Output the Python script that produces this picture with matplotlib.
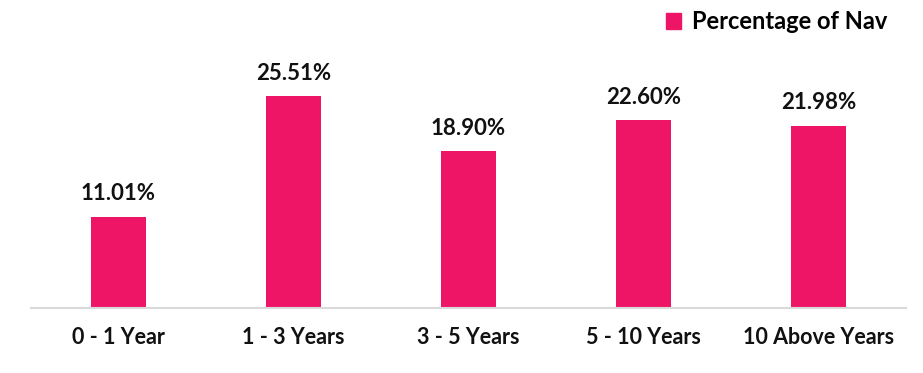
import matplotlib
matplotlib.use("Agg")
import matplotlib.pyplot as plt
from matplotlib.patches import Patch

plt.rcParams['font.family'] = ['Lato', 'DejaVu Sans']

categories = ["0 - 1 Year", "1 - 3 Years", "3 - 5 Years", "5 - 10 Years", "10 Above Years"]
values = [11.01, 25.51, 18.90, 22.60, 21.98]
series_name = "Percentage of Nav"

bar_color = "#EE1566"

fig = plt.figure(figsize=(9.23, 3.73), dpi=100)
ax = fig.add_axes([31 / 923, 65 / 373, 875 / 923, 249 / 373])

x = range(len(categories))
bars = ax.bar(x, values, width=0.314, color=bar_color)

for b, v in zip(bars, values):
    ax.annotate(f"{v:.2f}%", (b.get_x() + b.get_width() / 2, v),
                xytext=(0, 9), textcoords="offset points",
                ha="center", va="bottom", fontsize=16, fontweight="bold",
                color="#111111")

ax.set_xlim(-0.5, len(categories) - 0.5)
ax.set_ylim(0, 30)
ax.set_xticks(list(x))
ax.set_xticklabels(categories, fontsize=15.5, fontweight="bold", color="#111111")
ax.tick_params(axis="x", length=0, pad=14)
ax.set_yticks([])

for s in ["top", "right", "left"]:
    ax.spines[s].set_visible(False)
ax.spines["bottom"].set_color("#D9D9D9")
ax.spines["bottom"].set_linewidth(1.5)

handle = Patch(color=bar_color)
fig.legend([handle], [series_name], loc="upper right", bbox_to_anchor=(0.984, 1.03),
           frameon=False, handlelength=0.65, handleheight=0.65,
           handletextpad=0.45, prop={'size': 17, 'weight': 'bold'})

fig.savefig("out.png", dpi=100)
